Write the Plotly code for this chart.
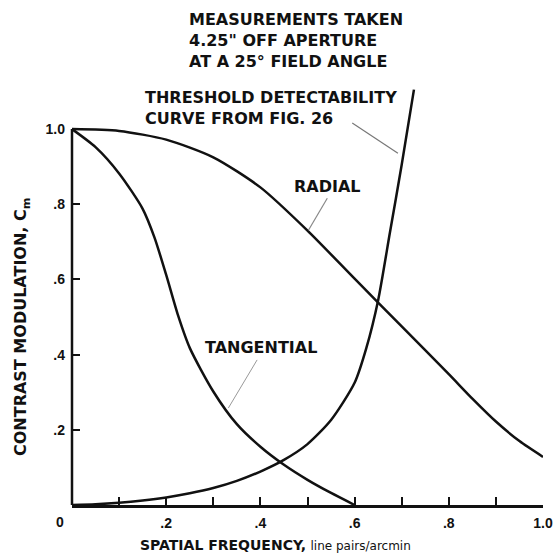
import plotly.graph_objects as go

# ---- data ----
radial_x = [0, 0.1, 0.2, 0.3, 0.4, 0.5, 0.6, 0.7, 0.8, 0.85, 0.9, 0.95, 1.0]
radial_y = [1.0, 0.995, 0.972, 0.925, 0.845, 0.73, 0.602, 0.475, 0.348, 0.283, 0.222, 0.17, 0.128]

tang_x = [0, 0.05, 0.1, 0.15, 0.175, 0.2, 0.225, 0.25, 0.3, 0.35, 0.4, 0.45, 0.5, 0.55, 0.6]
tang_y = [1.0, 0.952, 0.882, 0.788, 0.712, 0.612, 0.505, 0.418, 0.302, 0.215, 0.155, 0.107, 0.067, 0.032, 0.0]

thresh_x = [0, 0.05, 0.1, 0.15, 0.2, 0.25, 0.3, 0.35, 0.4, 0.45, 0.5, 0.55, 0.6, 0.625, 0.65, 0.675, 0.7, 0.726]
thresh_y = [0.0, 0.002, 0.006, 0.012, 0.02, 0.031, 0.045, 0.064, 0.089, 0.12, 0.162, 0.226, 0.325, 0.418, 0.545, 0.725, 0.905, 1.105]

x_tickvals = [0.2, 0.4, 0.6, 0.8, 1.0]
x_ticktext = [".2", ".4", ".6", ".8", "1.0"]
x_minor_ticks = [0.1, 0.3, 0.5, 0.7, 0.9]
y_tickvals = [0.2, 0.4, 0.6, 0.8, 1.0]
y_ticktext = [".2", ".4", ".6", ".8", "1.0"]

FONT = "Liberation Sans, Arial, Helvetica, sans-serif"
LFONT = "DejaVu Sans, Liberation Sans, sans-serif"
INK = "#111111"

fig = go.Figure()
for xs, ys in [(radial_x, radial_y), (tang_x, tang_y), (thresh_x, thresh_y)]:
    fig.add_trace(go.Scatter(x=xs, y=ys, mode="lines",
                             line=dict(color=INK, width=2.5, shape="spline", smoothing=0.7),
                             showlegend=False, hoverinfo="skip"))

fig.update_layout(
    width=556, height=553,
    margin=dict(l=72, r=13, t=84, b=48),
    paper_bgcolor="white", plot_bgcolor="white",
    font=dict(family=FONT, color=INK, size=13),
    showlegend=False,
)
fig.update_xaxes(range=[0, 1.0], showgrid=False, zeroline=False,
                 showline=True, linecolor=INK, linewidth=2.5,
                 ticks="inside", ticklen=8, tickwidth=2, tickcolor=INK,
                 tickvals=x_tickvals, ticktext=x_ticktext,
                 minor=dict(tickmode="array", tickvals=x_minor_ticks, ticks="inside",
                            ticklen=8, tickwidth=2, tickcolor=INK, showgrid=False),
                 tickfont=dict(size=14, family=FONT, weight="bold"),
                 ticklabelstandoff=3, ticklabeloverflow="allow", automargin=False)
fig.update_yaxes(range=[0, 1.12], showgrid=False, zeroline=False,
                 showline=False,
                 ticks="inside", ticklen=8, tickwidth=2, tickcolor=INK,
                 tickvals=y_tickvals, ticktext=y_ticktext,
                 tickfont=dict(size=14, family=FONT, weight="bold"),
                 ticklabelstandoff=6, automargin=False)

shapes = [
    # left axis line, drawn only from 0 to 1.0
    dict(type="line", xref="paper", yref="paper", x0=0, x1=0, y0=0, y1=1.0 / 1.12,
         line=dict(color=INK, width=2.5)),
    # leader lines
    dict(type="line", xref="x", yref="y", x0=0.595, y0=1.016, x1=0.692, y1=0.936,
         line=dict(color="#777777", width=1.2)),
    dict(type="line", xref="x", yref="y", x0=0.542, y0=0.816, x1=0.502, y1=0.731,
         line=dict(color="#888888", width=1.2)),
    dict(type="line", xref="x", yref="y", x0=0.393, y0=0.386, x1=0.332, y1=0.258,
         line=dict(color="#999999", width=1.0)),
]
fig.update_layout(shapes=shapes)

def ann(text, x, y, size=16, xanchor="center", yanchor="middle", align="center",
        angle=0, ref="paper", family=LFONT):
    fig.add_annotation(text=text, x=x, y=y, xref=ref, yref=ref, showarrow=False,
                       xanchor=xanchor, yanchor=yanchor, align=align, textangle=angle,
                       font=dict(family=family, size=size, color=INK))

ann("<b>MEASUREMENTS TAKEN<br>4.25\" OFF APERTURE<br>AT A 25° FIELD ANGLE</b>",
    0.244, 1.104, size=16, xanchor="left", align="left")
ann("<b>THRESHOLD DETECTABILITY<br>CURVE FROM FIG. 26</b>",
    0.151, 0.944, size=16, xanchor="left", align="left")
fig.add_annotation(text="<b>RADIAL</b>", x=0.542, y=0.846, xref="x", yref="y", showarrow=False,
                   font=dict(family=LFONT, size=16, color=INK))
fig.add_annotation(text="<b>TANGENTIAL</b>", x=0.402, y=0.418, xref="x", yref="y", showarrow=False,
                   font=dict(family=LFONT, size=16, color=INK))
ann("<b>0</b>", -0.0255, -0.040, size=14, family=FONT)
ann("<b>SPATIAL FREQUENCY,</b> <span style='font-size:12px'>line pairs/arcmin</span>",
    0.431, -0.095, size=14)
ann("<b>CONTRAST MODULATION, C<sub>m</sub></b>", -0.106, 0.423, size=16, angle=-90)

fig.write_html("out.html", config={"displayModeBar": False},
               post_script="document.body.style.margin='0px';")
